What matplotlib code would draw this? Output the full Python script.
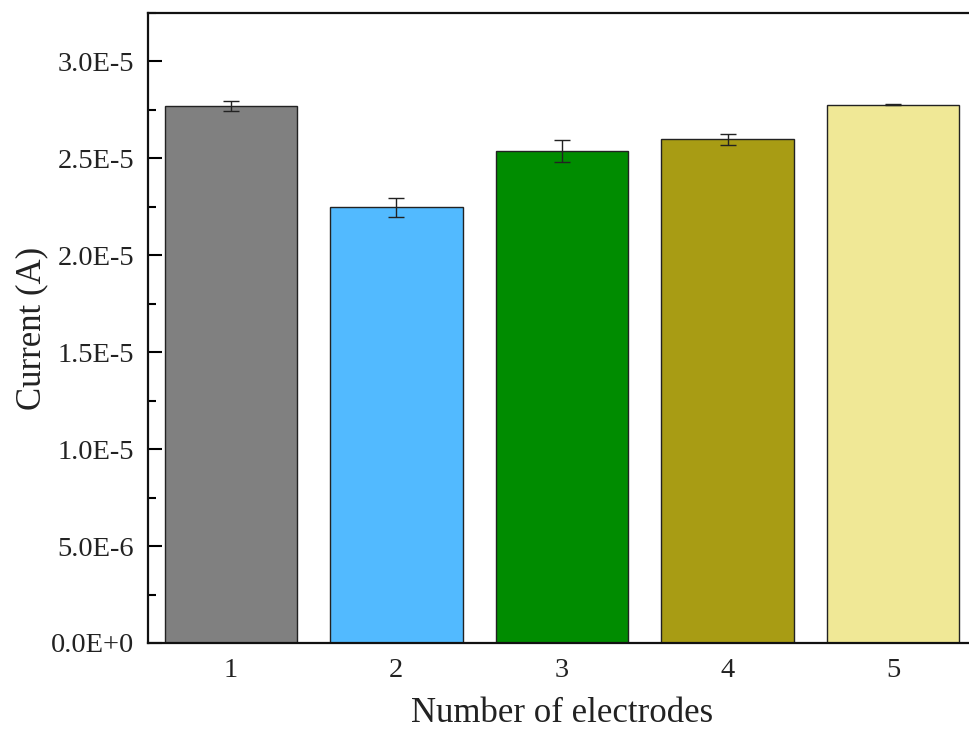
import matplotlib
matplotlib.use("Agg")
import matplotlib.pyplot as plt
from matplotlib.ticker import MultipleLocator, FuncFormatter

### Data
electrodes = [1, 2, 3, 4, 5]
current = [2.768e-5, 2.247e-5, 2.538e-5, 2.598e-5, 2.777e-5]
current_err = [2.6e-7, 4.7e-7, 5.6e-7, 3.0e-7, 0.4e-7]
bar_colors = ["#808080", "#52BAFF", "#008C00", "#A89C14", "#F0E896"]

### Plot
plt.rcParams["font.family"] = ["Liberation Serif", "DejaVu Serif"]
fig = plt.figure(figsize=(9.69, 7.31), dpi=100)
ax = fig.add_axes([0.1527, 0.1204, 0.8545, 0.8618])

ax.bar(electrodes, current, width=0.8, color=bar_colors, edgecolor="#222222",
       linewidth=1.0, yerr=current_err, capsize=6,
       error_kw={"ecolor": "#222222", "elinewidth": 1.0, "capthick": 1.0})

ax.set_xlim(0.5, 5.5)
ax.set_ylim(0, 3.25e-5)
ax.set_xticks(electrodes)
ax.yaxis.set_major_locator(MultipleLocator(5e-6))
ax.yaxis.set_minor_locator(MultipleLocator(2.5e-6))

# Origin-style scientific labels such as 2.5E-5
def sci_label(v, pos):
    if v == 0:
        return "0.0E+0"
    s = "%.1E" % v
    mant, exp = s.split("E")
    return "%sE%d" % (mant, int(exp))

ax.yaxis.set_major_formatter(FuncFormatter(sci_label))

ax.tick_params(axis="y", which="major", direction="in", length=10, width=1.5,
               labelsize=20.5, pad=10, labelcolor="#222222")
ax.tick_params(axis="y", which="minor", direction="in", length=6, width=1.5)
ax.tick_params(axis="x", which="both", length=0, labelsize=20.5, pad=11,
               labelcolor="#222222")
for spine in ax.spines.values():
    spine.set_linewidth(1.6)
    spine.set_color("#111111")

ax.set_xlabel("Number of electrodes", fontsize=25, labelpad=10, color="#222222")
ax.set_ylabel("Current (A)", fontsize=25, labelpad=2, color="#222222")

plt.savefig("out.png", dpi=100)
plt.close()
